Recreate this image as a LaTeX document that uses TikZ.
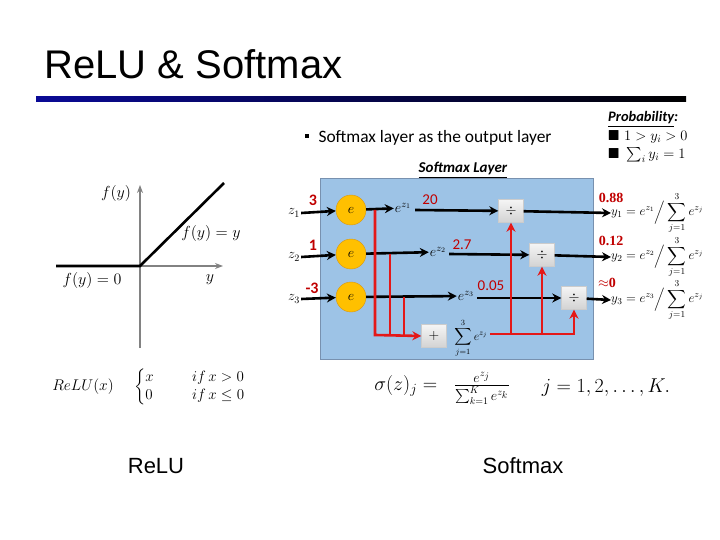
\RequirePackage{fix-cm}
\documentclass[tikz,border=0pt]{standalone}
\usepackage{amsmath,amssymb}
\usepackage{fontspec}
\usepackage{xcolor}
\usepackage{tikz}
\usetikzlibrary{arrows.meta,positioning,shapes.geometric}
\newfontfamily\arialfont{Liberation Sans}
\newfontfamily\calibrifont{Carlito}
\newfontfamily\timesfont{Liberation Serif}
\definecolor{SlideNavy}{RGB}{10,10,150}
\definecolor{LayerBlue}{RGB}{157,195,230}
\definecolor{LayerEdge}{RGB}{120,145,175}
\definecolor{NodeGold}{RGB}{255,192,0}
\definecolor{NodeEdge}{RGB}{215,150,20}
\definecolor{ValueRed}{RGB}{192,0,0}
\definecolor{SumRed}{RGB}{228,24,24}
\definecolor{AxisGray}{RGB}{130,130,130}

\begin{document}
\begin{tikzpicture}[
x=1pt,y=-1pt,
enode/.style={
circle,
draw=NodeEdge,
fill=NodeGold,
minimum size=30pt,
inner sep=0pt,
font=\fontsize{14}{14}\selectfont
},
opbox/.style={
draw=gray!40,
top color=gray!8,
bottom color=gray!35,
minimum width=25pt,
minimum height=23pt,
inner sep=0pt,
font=\fontsize{14}{14}\selectfont
},
flow/.style={
line width=2.6pt,
-{Stealth[length=9pt,width=9pt]}
},
sumline/.style={
draw=SumRed,
line width=2.6pt
},
val/.style={
text=ValueRed,
font=\calibrifont\fontsize{15}{15}\selectfont
},
prob/.style={
text=ValueRed,
font=\timesfont\bfseries\fontsize{14}{14}\selectfont,
inner sep=0pt
},
mathlbl/.style={
font=\fontsize{14}{14}\selectfont,
inner sep=1pt
},
plotlbl/.style={
font=\fontsize{16}{16}\selectfont,
inner sep=1pt
}
]
\useasboundingbox (0,0) rectangle (720,540);

% title and bar
\node[anchor=base west,font=\arialfont\fontsize{40}{44}\selectfont] (title) at (41,79) {ReLU \& Softmax};
\shade[left color=SlideNavy,right color=black] (36,97) rectangle (686,102);

% relu plot
\coordinate (origin) at (140,266);
\draw[AxisGray,line width=1.3pt,-{Stealth[length=8pt,width=6pt]}] (140,348) -- (140,185);
\draw[AxisGray,line width=1.3pt,-{Stealth[length=8pt,width=6pt]}] (origin) -- (223,266);
\draw[line width=2.6pt] (56,266) -- (origin) -- (224,183);
\node[plotlbl] (fy) at (116,193) {$f(y)$};
\node[plotlbl] (fyy) at (211,233) {$f(y)=y$};
\node[plotlbl] (fy0) at (92,280) {$f(y)=0$};
\node[plotlbl] (ylbl) at (210,280) {$y$};
\node[mathlbl,font=\fontsize{15.5}{16}\selectfont] (relu) at (83,387) {$ReLU(x)$};
\node[mathlbl,font=\fontsize{15}{15}\selectfont,anchor=west] (cases) at (133,387) {$\begin{cases} x & \quad\;\; if\, x>0\\ 0 & \quad\;\; if\, x\le 0\end{cases}$};

% softmax text
\node[anchor=west,font=\calibrifont\fontsize{17.4}{18}\selectfont] (intro) at (315,138) {Softmax layer as the output layer};
\node[fill=black,minimum size=3.5pt,inner sep=0pt] (dot) at (307,136) {};
\node[anchor=west,font=\calibrifont\bfseries\itshape\fontsize{14.5}{15}\selectfont,inner sep=1pt] (probhead) at (607,119) {\underline{Probability}:};
\node[anchor=west,font=\fontsize{14.5}{15}\selectfont,inner sep=1pt] (cond1) at (607,137) {$\blacksquare\ 1>y_i>0$};
\node[anchor=west,font=\fontsize{14.5}{15}\selectfont,inner sep=1pt] (cond2) at (607,155) {$\blacksquare\ \sum_i y_i=1$};
\node[font=\calibrifont\bfseries\itshape\fontsize{15}{15}\selectfont] (layerhead) at (463,170) {\underline{Softmax Layer}};

% softmax layer
\draw[LayerEdge,fill=LayerBlue] (320,178) rectangle (593,359);

\node[enode] (e1) at (351,210) {$e$};
\node[enode] (e2) at (351,254) {$e$};
\node[enode] (e3) at (351,297) {$e$};

\node[mathlbl] (z1) at (294,213) {$z_1$};
\node[mathlbl] (z2) at (294,257) {$z_2$};
\node[mathlbl] (z3) at (294,299) {$z_3$};
\node[val,font=\calibrifont\bfseries\fontsize{16}{16}\selectfont] (in1) at (313,200) {3};
\node[val,font=\calibrifont\bfseries\fontsize{16}{16}\selectfont] (in2) at (313,245) {1};
\node[val,font=\calibrifont\bfseries\fontsize{16}{16}\selectfont] (in3) at (312,288) {-3};
\draw[flow] (z1.east) -- (e1);
\draw[flow] (z2.east) -- (e2);
\draw[flow] (z3.east) -- (e3);

\node[mathlbl] (x1) at (403,208) {$e^{z_1}$};
\node[mathlbl] (x2) at (438,252) {$e^{z_2}$};
\node[mathlbl] (x3) at (466,296) {$e^{z_3}$};
\draw[flow] (e1) -- (x1);
\draw[flow] (e2) -- (x2);
\draw[flow] (e3) -- (x3);

\node[opbox] (d1) at (511,211) {$\div$};
\node[opbox] (d2) at (542,255) {$\div$};
\node[opbox] (d3) at (574,298) {$\div$};
\draw[flow] (x1.east) ++(3,2) -- (d1);
\draw[flow] (x2.east) ++(2,2) -- (d2);
\draw[flow] (x3.east) ++(2,2) -- (d3);
\node[val] (w1) at (430,200) {20};
\node[val] (w2) at (462,245) {2.7};
\node[val] (w3) at (491,286) {0.05};

% sum branch
\coordinate (b1) at (375,335);
\coordinate (b2) at (390,335);
\coordinate (b3) at (404,335);
\node[opbox] (plus) at (434,336) {$+$};
\node[mathlbl,font=\fontsize{12}{12}\selectfont,inner sep=0pt] (sum) at (471,338) {$\displaystyle\sum_{j=1}^{3} e^{z_j}$};
\draw[sumline,-{Stealth[length=9pt,width=9pt]}] (e1.east -| b1) -- (b1) -- (plus.west);
\draw[sumline] (e2.east -| b2) -- (b2);
\draw[sumline] (e3.east -| b3) -- (b3);
\coordinate (c3) at (574,334);
\draw[sumline,-{Stealth[length=9pt,width=9pt]}] (sum.east |- c3) ++(2,0) -- (c3) -- (d3.south);
\draw[sumline,-{Stealth[length=9pt,width=9pt]}] (d1 |- c3) -- (d1.south);
\draw[sumline,-{Stealth[length=9pt,width=9pt]}] (d2 |- c3) -- (d2.south);

% outputs
\node[mathlbl,anchor=west,font=\fontsize{13}{13}\selectfont,inner sep=0pt] (y1) at (611,213) {$y_1=e^{z_1}\Big/\displaystyle\sum_{j=1}^{3} e^{z_j}$};
\node[mathlbl,anchor=west,font=\fontsize{13}{13}\selectfont,inner sep=0pt] (y2) at (611,257) {$y_2=e^{z_2}\Big/\displaystyle\sum_{j=1}^{3} e^{z_j}$};
\node[mathlbl,anchor=west,font=\fontsize{13}{13}\selectfont,inner sep=0pt] (y3) at (611,300) {$y_3=e^{z_3}\Big/\displaystyle\sum_{j=1}^{3} e^{z_j}$};
\draw[flow] (d1) -- (y1.west);
\draw[flow] (d2) -- (y2.west);
\draw[flow] (d3) -- (y3.west);
\node[prob] (p1) at (611,198) {0.88};
\node[prob] (p2) at (611,241) {0.12};
\node[prob] (p3) at (607,283) {$\approx$0};

% formula
\node[font=\fontsize{20}{20}\selectfont] (sigma) at (442,388) {$\sigma(z)_j=\;\;\frac{e^{z_j}}{\sum_{k=1}^{K} e^{z_k}}$};
\node[font=\fontsize{20}{20}\selectfont] (jrange) at (606,388) {$j=1,2,\ldots,K.$};

% captions
\node[font=\arialfont\fontsize{22}{22}\selectfont] (cap1) at (156,466) {ReLU};
\node[font=\arialfont\fontsize{22}{22}\selectfont] (cap2) at (523,466) {Softmax};
\end{tikzpicture}
\end{document}
